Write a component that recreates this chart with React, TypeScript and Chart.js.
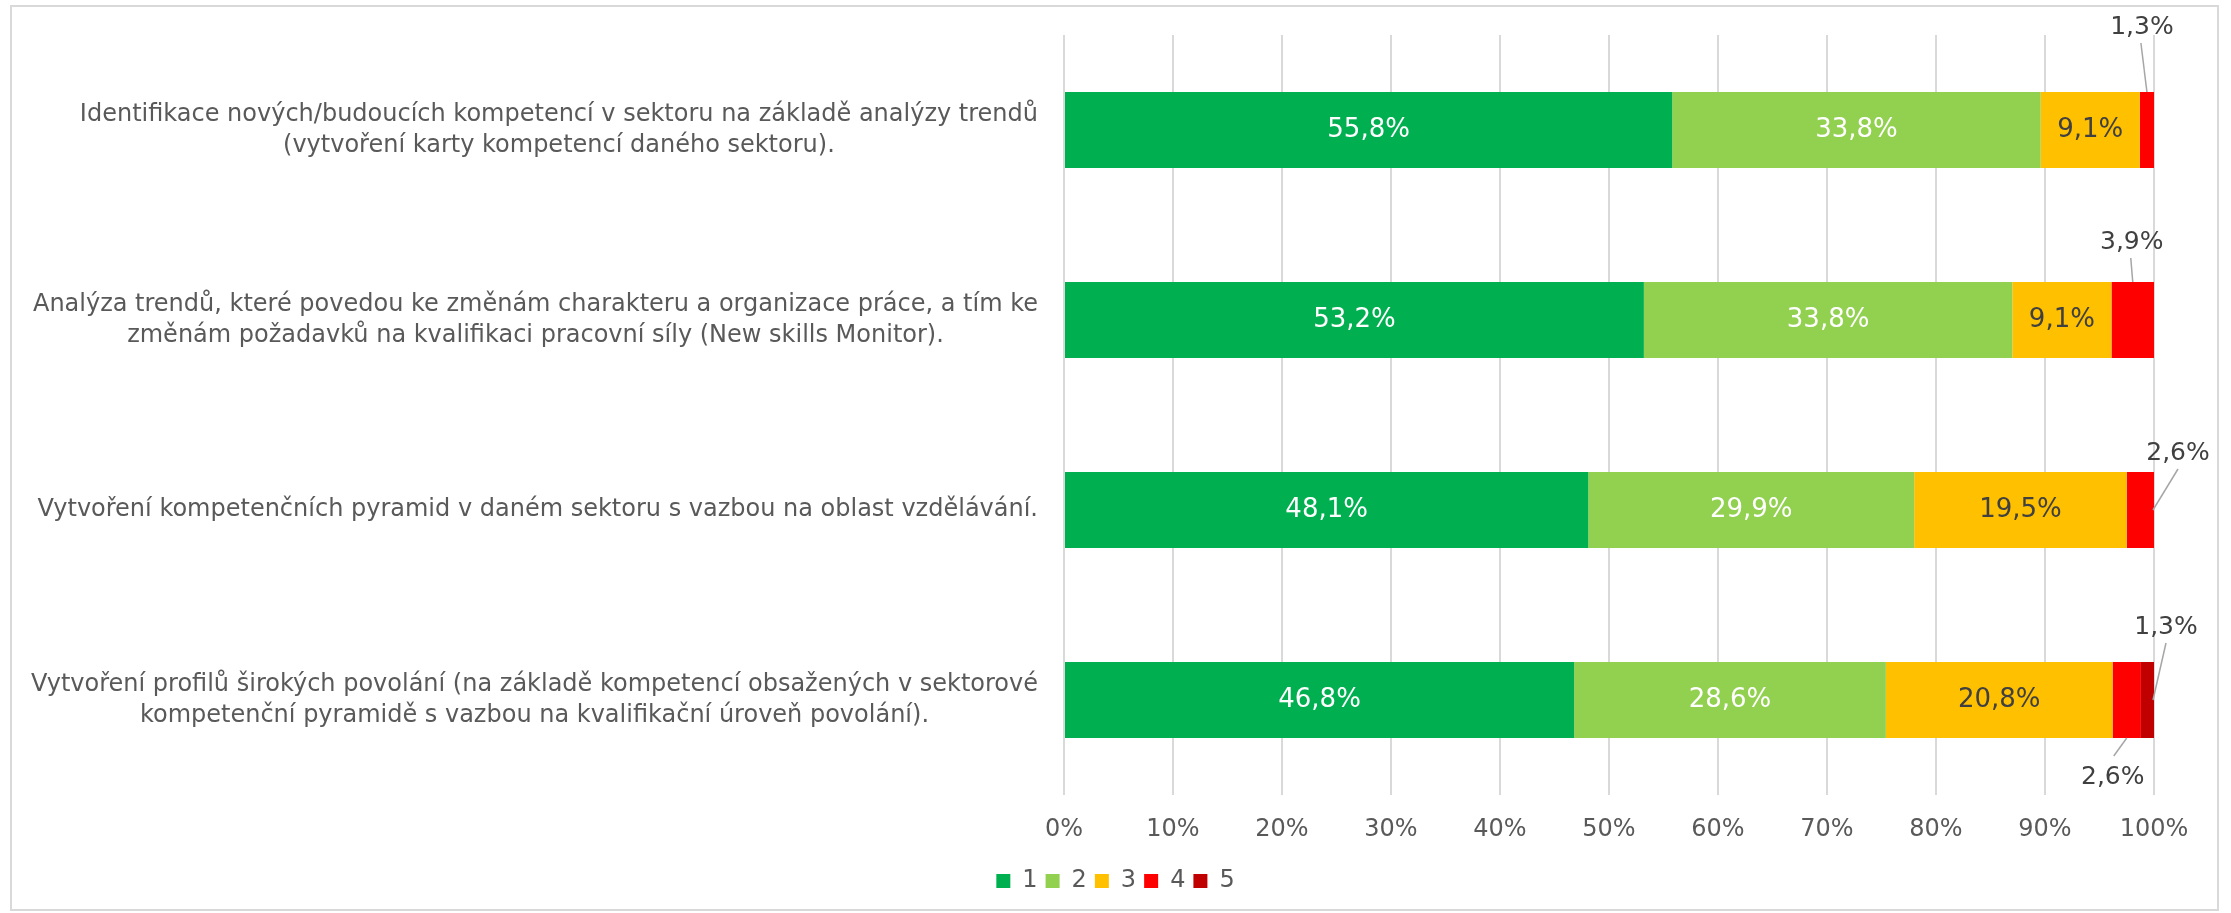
import React, { useEffect, useRef } from 'react';
import { Chart, registerables } from 'chart.js';

Chart.register(...registerables);

// ---- data ----
const categories: string[][] = [
  ['Identifikace nových/budoucích kompetencí v sektoru na základě analýzy trendů', '(vytvoření karty kompetencí daného sektoru).'],
  ['Analýza trendů, které povedou ke změnám charakteru a organizace práce, a tím ke', 'změnám požadavků na kvalifikaci pracovní síly (New skills Monitor).'],
  ['Vytvoření kompetenčních pyramid v daném sektoru s vazbou na oblast vzdělávání.'],
  ['Vytvoření profilů širokých povolání (na základě kompetencí obsažených v sektorové', 'kompetenční pyramidě s vazbou na kvalifikační úroveň povolání).'],
];
const seriesNames = ['1', '2', '3', '4', '5'];
const series1 = [55.8, 53.2, 48.1, 46.8];
const series2 = [33.8, 33.8, 29.9, 28.6];
const series3 = [9.1, 9.1, 19.5, 20.8];
const series4 = [1.3, 3.9, 2.6, 2.6];
const series5 = [0, 0, 0, 1.3];
const xTickMin = 0;
const xTickMax = 100;
const xTickStep = 10;

// ---- styles ----
const FONT = "'DejaVu Sans', Verdana, sans-serif";
const seriesColors = ['#00B050', '#92D050', '#FFC000', '#FF0000', '#C00000'];
const innerLabelColors = ['#FFFFFF', '#FFFFFF', '#404040'];
const textGray = '#595959';
const labelGray = '#404040';
const leaderGray = '#A6A6A6';

// callout placement for small segments (pixel offsets from an anchor on the segment)
const callouts = [
  { ds: 3, row: 0, anchor: 'top', dx: -5, dy: -65 },
  { ds: 3, row: 1, anchor: 'top', dx: -1, dy: -40 },
  { ds: 3, row: 2, anchor: 'right', dx: 25, dy: -57 },
  { ds: 3, row: 3, anchor: 'bottom', dx: -14, dy: 39 },
  { ds: 4, row: 3, anchor: 'right', dx: 13, dy: -73 },
];

const fmt = (v: number) => v.toFixed(1).replace('.', ',') + '%';

const labelsPlugin = {
  id: 'customLabels',
  afterDatasetsDraw(chart: any) {
    const ctx = chart.ctx as CanvasRenderingContext2D;
    ctx.save();
    ctx.textAlign = 'center';
    ctx.textBaseline = 'middle';
    ctx.font = `26px ${FONT}`;
    [0, 1, 2].forEach((di) => {
      const meta = chart.getDatasetMeta(di);
      meta.data.forEach((el: any, i: number) => {
        const v = chart.data.datasets[di].data[i] as number;
        if (!v) return;
        const { x, y, base } = el.getProps(['x', 'y', 'base'], true);
        ctx.fillStyle = innerLabelColors[di];
        ctx.fillText(fmt(v), (x + base) / 2, y);
      });
    });
    ctx.font = `25px ${FONT}`;
    callouts.forEach((c) => {
      const el: any = chart.getDatasetMeta(c.ds).data[c.row];
      const v = chart.data.datasets[c.ds].data[c.row] as number;
      const { x, y, base, height } = el.getProps(['x', 'y', 'base', 'height'], true);
      const right = Math.min(Math.max(x, base), chart.chartArea.right);
      const left = Math.min(x, base);
      const cx = (left + right) / 2;
      let ax = cx, ay = y;
      if (c.anchor === 'top') { ax = cx; ay = y - height / 2; }
      else if (c.anchor === 'bottom') { ax = cx; ay = y + height / 2; }
      else { ax = right - 1; ay = y; }
      const lx = ax + c.dx;
      const ly = ay + c.dy;
      const ey = c.dy < 0 ? ly + 16 : ly - 21;
      const ex = c.anchor === 'bottom' ? lx + 1 : lx - (c.anchor === 'top' ? 1 : 0);
      ctx.strokeStyle = leaderGray;
      ctx.lineWidth = 1.5;
      ctx.beginPath();
      ctx.moveTo(ex, ey);
      ctx.lineTo(ax, ay);
      ctx.stroke();
      ctx.fillStyle = labelGray;
      ctx.fillText(fmt(v), lx, ly);
    });
    ctx.restore();
  },
  afterDraw(chart: any) {
    const ctx = chart.ctx as CanvasRenderingContext2D;
    const yScale = chart.scales.y;
    ctx.save();
    ctx.font = `24px ${FONT}`;
    ctx.fillStyle = textGray;
    ctx.textAlign = 'center';
    ctx.textBaseline = 'middle';
    const blockRight = chart.chartArea.left - 26;
    const lineH = 31;
    (chart.data.labels as string[][]).forEach((lines, i) => {
      const cy = yScale.getPixelForValue(i);
      const w = Math.max(...lines.map((l) => ctx.measureText(l).width));
      const cx = blockRight - w / 2;
      const top = cy - ((lines.length - 1) * lineH) / 2;
      lines.forEach((l, k) => ctx.fillText(l, cx, top + k * lineH));
    });
    ctx.restore();
  },
};

export default function App() {
  const ref = useRef<HTMLCanvasElement | null>(null);
  useEffect(() => {
    document.body.style.margin = '0';
    if (!ref.current) return;
    Chart.defaults.font.family = FONT;
    const allSeries = [series1, series2, series3, series4, series5];
    const chart = new Chart(ref.current, {
      type: 'bar',
      data: {
        labels: categories,
        datasets: allSeries.map((d, i) => ({
          label: seriesNames[i],
          data: d,
          backgroundColor: seriesColors[i],
          borderWidth: 0,
          categoryPercentage: 1,
          barPercentage: 0.4,
        })),
      },
      options: {
        indexAxis: 'y',
        responsive: false,
        animation: false,
        devicePixelRatio: 1,
        layout: { padding: { left: 77, right: 77, top: 35, bottom: 10 } },
        plugins: {
          tooltip: { enabled: false },
          legend: {
            position: 'bottom',
            labels: {
              boxWidth: 14,
              boxHeight: 14,
              padding: 8,
              color: textGray,
              font: { size: 24, family: FONT },
            },
          },
        },
        scales: {
          x: {
            stacked: true,
            min: xTickMin,
            max: xTickMax,
            grid: { color: '#D9D9D9', lineWidth: 2, drawTicks: false },
            border: { display: false },
            ticks: {
              stepSize: xTickStep,
              padding: 20,
              color: textGray,
              font: { size: 24, family: FONT },
              callback: (v: any) => `${v}%`,
            },
            afterFit: (s: any) => { s.height = 66; },
          },
          y: {
            stacked: true,
            grid: { display: false },
            border: { display: false },
            ticks: { display: false },
            afterFit: (s: any) => { s.width = 987; },
          },
        },
      },
      plugins: [labelsPlugin],
    } as any);
    return () => chart.destroy();
  }, []);
  return (
    <div style={{ position: 'absolute', left: 0, top: 0, width: 2231, height: 913, background: '#fff' }}>
      <div style={{ position: 'absolute', left: 10, top: 5, width: 2209, height: 906, border: '2px solid #D9D9D9', boxSizing: 'border-box' }} />
      <canvas ref={ref} width={2231} height={913} style={{ position: 'absolute', left: 0, top: 0 }} />
    </div>
  );
}
